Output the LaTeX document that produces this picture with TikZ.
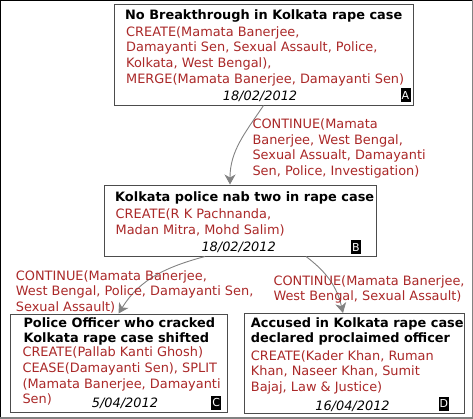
\documentclass[tikz,border=0pt]{standalone}
\usepackage{fontspec}
\setmainfont{DejaVu Sans}
\usetikzlibrary{arrows.meta}
\definecolor{opred}{RGB}{170,40,40}
\definecolor{linkgray}{RGB}{130,130,130}
\tikzset{
  evbox/.style={draw=black!70, line width=1pt, inner sep=0pt},
  ttl/.style={anchor=north west, inner sep=0pt, align=left, font=\fontsize{12.9}{15}\selectfont\bfseries},
  ops/.style={anchor=north west, inner sep=0pt, align=left, text=opred, font=\fontsize{12.9}{15.7}\selectfont},
  when/.style={anchor=base, inner sep=0pt, font=\fontsize{12.9}{15.7}\selectfont\itshape},
  tag/.style={fill=black, text=white, inner sep=0pt, minimum width=10pt, minimum height=14pt, font=\fontsize{11}{12}\selectfont},
  flow/.style={draw=linkgray, line width=0.9pt, -{Stealth[length=10pt, width=11pt, inset=3pt]}}
}
\begin{document}
\begin{tikzpicture}[x=1pt, y=-1pt]
\useasboundingbox (0,0) rectangle (473,418);
\draw[black, line width=2pt] (0,418) -- (0,0) -- (473,0);
\draw[linkgray, line width=2pt] (473,0) -- (473,418) -- (0,418);

% events
\node[evbox, minimum width=299pt, minimum height=101pt] (A) at (263.5,54.5) {};
\node[evbox, minimum width=272pt, minimum height=71pt] (B) at (240,220.5) {};
\node[evbox, minimum width=217pt, minimum height=98pt] (C) at (118.5,363) {};
\node[evbox, minimum width=220pt, minimum height=100pt] (D) at (354,363.5) {};

% A
\node[ttl] (ta) at (125,9.6) {No Breakthrough in Kolkata rape case};
\node[ops] (oa) at (126,26.2) {CREATE(Mamata Banerjee,\\Damayanti Sen, Sexual Assault, Police,\\Kolkata, West Bengal),\\MERGE(Mamata Banerjee, Damayanti Sen)};
\node[when] (da) at (260,100) {18/02/2012};
\node[tag] (ka) at (405.5,95) {A};

% B
\node[ttl] (tb) at (115,191.6) {Kolkata police nab two in rape case};
\node[ops] (ob) at (115.5,208.5) {CREATE(R K Pachnanda,\\Madan Mitra, Mohd Salim)};
\node[when] (db) at (238.7,251.7) {18/02/2012};
\node[tag] (kb) at (356,247) {B};

% C
\node[ttl] (tc) at (23.3,317.6) {Police Officer who cracked\\Kolkata rape case shifted};
\node[ops] (oc) at (22.3,346.8) {CREATE(Pallab Kanti Ghosh)\\CEASE(Damayanti Sen), SPLIT\\(Mamata Banerjee, Damayanti\\Sen)};
\node[when] (dc) at (125,407.7) {5/04/2012};
\node[tag] (kc) at (216.3,402.5) {C};

% D
\node[ttl] (td) at (250.7,317.6) {Accused in Kolkata rape case\\declared proclaimed officer};
\node[ops] (od) at (250.7,350.1) {CREATE(Kader Khan, Ruman\\Khan, Naseer Khan, Sumit\\Bajaj, Law \& Justice)};
\node[when] (dd) at (352.5,410) {16/04/2012};
\node[tag] (kd) at (443.8,403.8) {D};

% links
\draw[flow] (A.south) to[out=236, in=90] ([xshift=-10pt]B.north);
\draw[flow] ([xshift=-35pt]B.south) to[out=195, in=58] (C.north);
\draw[flow] ([xshift=66pt]B.south) to[out=-37, in=103] ([xshift=-11pt]D.north);

\node[ops] (lab) at (252.3,118.4) {CONTINUE(Mamata\\Banerjee, West Bengal,\\Sexual Assualt, Damayanti\\Sen, Police, Investigation)};
\node[ops] (lbc) at (15.7,270.1) {CONTINUE(Mamata Banerjee,\\West Bengal, Police, Damayanti Sen,\\Sexual Assault)};
\node[ops] (lbd) at (273.3,275.1) {CONTINUE(Mamata Banerjee,\\West Bengal, Sexual Assault)};
\end{tikzpicture}
\end{document}
